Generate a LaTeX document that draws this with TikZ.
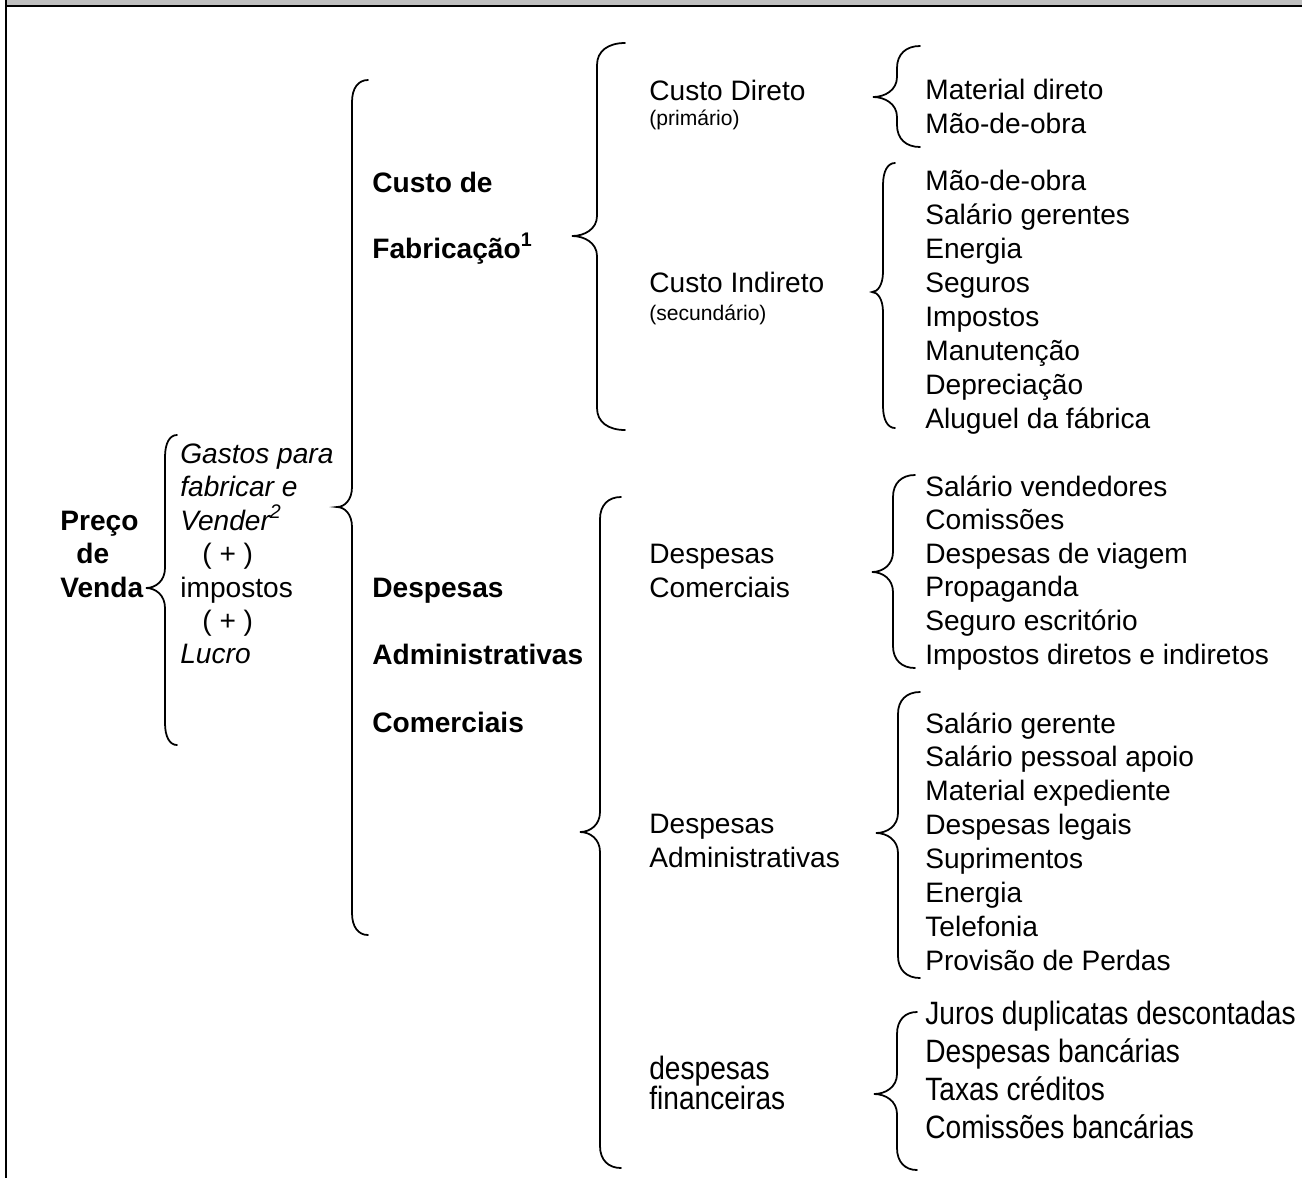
\documentclass[tikz,border=0pt]{standalone}
\usepackage{fontspec}
\setmainfont{Liberation Sans}
\newcommand{\wbrace}[7]{% name, x end, x spine, x tip, y top, y tip, y bottom
  \coordinate (#1) at (#4,#6);
  \draw[bracel] (#2,#5) .. controls ({#3+0.4*(#2-#3)},#5) and (#3,{#5+8}) .. (#3,{#5+22})
    -- (#3,{#6-20}) .. controls (#3,{#6-7}) and ({#4+0.5*(#3-#4)},#6) .. (#1)
    .. controls ({#4+0.5*(#3-#4)},#6) and (#3,{#6+7}) .. (#3,{#6+20})
    -- (#3,{#7-22}) .. controls (#3,{#7-8}) and ({#3+0.4*(#2-#3)},#7) .. (#2,#7);}
\newcommand{\tall}[1]{\scalebox{1}[1.15]{#1}}
\tikzset{
  tnorm/.style={anchor=base west, inner sep=0pt, font=\fontsize{16}{19.4}\selectfont},
  tbold/.style={tnorm, font=\fontsize{16}{19.4}\selectfont\bfseries},
  tital/.style={tnorm, font=\fontsize{16}{19.4}\selectfont\itshape},
  tsmall/.style={tnorm, font=\fontsize{12}{14}\selectfont},
  bracel/.style={line width=1pt, line cap=round},
}
\begin{document}
\begin{tikzpicture}[x=0.02cm,y=-0.02cm]
\useasboundingbox (0,0) rectangle (1302,1178);
% frame
\fill[black!25] (7.3,0) rectangle (1302,5);
\fill[black] (5,5) rectangle (1302,7.3);
\fill[black] (5,0) rectangle (7.3,1178);

% left column
\node[tbold] (p1) at (60,530) {Preço};
\node[tbold] (p2) at (76,563) {de};
\node[tbold] (p3) at (60,597) {Venda};
\wbrace{bp}{177}{165}{146}{435}{588}{745}
\node[tital] (g1) at (180,463) {Gastos para};
\node[tital] (g2) at (180,496) {fabricar e};
\node[tital] (g3) at (180,530) {Vender\textsuperscript{2}};
\node[tnorm] (g4) at (202,563) {( + )};
\node[tnorm] (g5) at (180,597) {impostos};
\node[tnorm] (g6) at (202,630) {( + )};
\node[tital] (g7) at (180,663) {Lucro};

% level 1
\wbrace{b1}{368}{352}{337}{80}{507}{935}
\node[tbold] (c1) at (372,192) {Custo de};
\node[tbold] (c2) at (372,258) {Fabricação\textsuperscript{1}};
\node[tbold] (d1) at (372,597) {Despesas};
\node[tbold] (d2) at (372,664) {Administrativas};
\node[tbold] (d3) at (372,732) {Comerciais};

% level 2
\wbrace{b2}{625}{597}{572}{43}{236}{430}
\wbrace{b3}{621}{600}{580}{497}{832}{1168}
\node[tnorm] (cd) at (649,100) {Custo Direto};
\node[tsmall] (cds) at (649,125) {(primário)};
\node[tnorm] (ci) at (649,292) {Custo Indireto};
\node[tsmall] (cis) at (649,320) {(secundário)};
\node[tnorm] (dc1) at (649,563) {Despesas};
\node[tnorm] (dc2) at (649,597) {Comerciais};
\node[tnorm] (da1) at (649,833) {Despesas};
\node[tnorm] (da2) at (649,867) {Administrativas};
\node[tnorm] (df1) at (649,1079) {\tall{despesas}};
\node[tnorm] (df2) at (649,1109) {\tall{financeiras}};

% level 3
\wbrace{b4}{920}{897}{873}{46}{97}{147}
\node[tnorm] (m1) at (925,99) {Material direto};
\node[tnorm] (m2) at (925,133) {Mão-de-obra};

\wbrace{b5}{895}{883}{872}{163}{292}{428}
\foreach \t [count=\i] in {Mão-de-obra, Salário gerentes, Energia, Seguros, Impostos, Manutenção, Depreciação, Aluguel da fábrica}
  \node[tnorm] (ind\i) at (925,{190+34*(\i-1)}) {\t};

\wbrace{b6}{915}{893}{872}{475}{572}{668}
\foreach \t [count=\i] in {Salário vendedores, Comissões, Despesas de viagem, Propaganda, Seguro escritório, Impostos diretos e indiretos}
  \node[tnorm] (com\i) at (925,{496+33.6*(\i-1)}) {\t};

\wbrace{b7}{920}{898}{876}{692}{833}{978}
\foreach \t [count=\i] in {Salário gerente, Salário pessoal apoio, Material expediente, Despesas legais, Suprimentos, Energia, Telefonia, Provisão de Perdas}
  \node[tnorm] (adm\i) at (925,{733+33.9*(\i-1)}) {\t};

\wbrace{b8}{917}{897}{874}{1012}{1094}{1170}
\foreach \t [count=\i] in {Juros duplicatas descontadas, Despesas bancárias, Taxas créditos, Comissões bancárias}
  \node[tnorm] (fin\i) at (925,{1024+38*(\i-1)}) {\tall{\t}};
\end{tikzpicture}
\end{document}
